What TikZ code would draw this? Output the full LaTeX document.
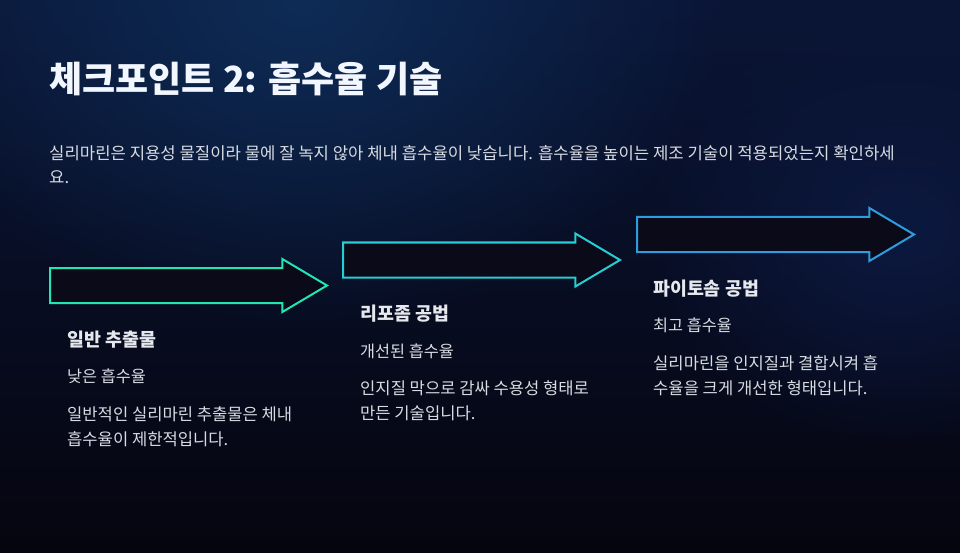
\documentclass[tikz,border=0pt]{standalone}
\usepackage{fontspec}
\setmainfont{Noto Sans CJK KR}
\usepackage{xcolor}
\usetikzlibrary{positioning, shapes.arrows, fadings}
\definecolor{bgtop}{HTML}{0A1536}
\definecolor{bgbottom}{HTML}{05050F}
\definecolor{glowblue}{HTML}{0E2C56}
\definecolor{glowright}{HTML}{0C1940}
\definecolor{arrowfill}{HTML}{0A0A18}
\definecolor{greenline}{HTML}{22E6B2}
\definecolor{cyanline}{HTML}{26CDD3}
\definecolor{blueline}{HTML}{2E9DE0}
\definecolor{titlecol}{HTML}{F2F6FF}
\definecolor{headcol}{HTML}{E6E8EE}
\definecolor{textcol}{HTML}{D8DBE2}
\tikzfading[name=glow fade, inner color=transparent!0, outer color=transparent!100]
\tikzset{
    flowarrow/.style={single arrow, draw=#1, fill=arrowfill, line width=2pt,
        minimum height=277pt, inner xsep=0pt, inner ysep=16.5pt, single arrow head extend=9pt,
        single arrow tip angle=61.4, anchor=tail}, % arrow outlines
    titletext/.style={text=titlecol, font=\fontsize{36}{42}\selectfont\bfseries, anchor=west},
    introtext/.style={text=textcol, font=\fontsize{16.7}{24}\selectfont, align=left, anchor=west},
    heading/.style={text=headcol, font=\fontsize{18.4}{22}\selectfont\bfseries, anchor=west},
    subline/.style={text=textcol, font=\fontsize{16.3}{20}\selectfont, anchor=west},
    bodytext/.style={text=textcol, font=\fontsize{16.6}{25}\selectfont, align=left, anchor=west},
}

\begin{document}
\begin{tikzpicture}[x=1pt, y=-1pt, inner sep=0pt]
    \useasboundingbox (0,0) rectangle (960,553);
    % background
    \shade[top color=bgtop, bottom color=bgbottom] (0,0) rectangle (960,553);
    \fill[glowblue, path fading=glow fade] (300,0) ellipse (430 and 330);
    \fill[glowright, path fading=glow fade] (900,230) ellipse (260 and 220);

    % title
    \node[titletext] (title) at (49,78.5) {체크포인트 2: 흡수율 기술};
    \node[introtext] (intro) at (49,165)
        {실리마린은 지용성 물질이라 물에 잘 녹지 않아 체내 흡수율이 낮습니다. 흡수율을 높이는 제조 기술이 적용되었는지 확인하세\\요.};

    % arrows
    \node[flowarrow=greenline] (ext) at (49,285.5) {};
    \node[flowarrow=cyanline] (lipo) at (342,260) {};
    \node[flowarrow=blueline] (phyto) at (636,234.5) {};

    % texts
    \node[heading, below right=54pt and 18pt of ext.tail, anchor=west] (exthead) {일반 추출물};
    \node[subline, below=37pt of exthead.west, anchor=west] (extsub) {낮은 흡수율};
    \node[bodytext, below=50pt of extsub.west, anchor=west] (extbody)
        {일반적인 실리마린 추출물은 체내\\흡수율이 제한적입니다.};

    \node[heading, below right=54pt and 18pt of lipo.tail, anchor=west] (lipohead) {리포좀 공법};
    \node[subline, below=37pt of lipohead.west, anchor=west] (liposub) {개선된 흡수율};
    \node[bodytext, below=50pt of liposub.west, anchor=west] (lipobody)
        {인지질 막으로 감싸 수용성 형태로\\만든 기술입니다.};

    \node[heading, below right=54pt and 17pt of phyto.tail, anchor=west] (phytohead) {파이토솜 공법};
    \node[subline, below=37pt of phytohead.west, anchor=west] (phytosub) {최고 흡수율};
    \node[bodytext, below=50pt of phytosub.west, anchor=west] (phytobody)
        {실리마린을 인지질과 결합시켜 흡\\수율을 크게 개선한 형태입니다.};
\end{tikzpicture}
\end{document}
